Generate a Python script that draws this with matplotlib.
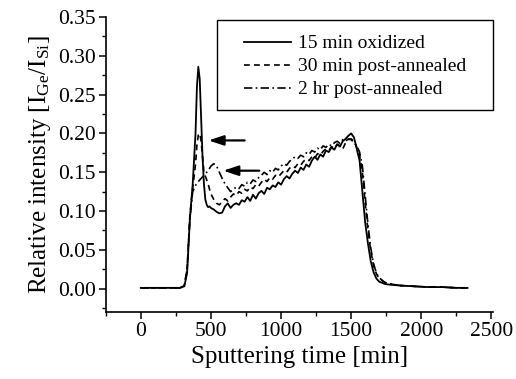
import matplotlib
matplotlib.use("Agg")
import matplotlib.pyplot as plt
from matplotlib.ticker import MultipleLocator
from matplotlib.patches import Rectangle

plt.rcParams['font.family'] = ['Liberation Serif', 'DejaVu Serif']
plt.rcParams['mathtext.fontset'] = 'custom'
plt.rcParams['mathtext.rm'] = 'Liberation Serif'
plt.rcParams['mathtext.it'] = 'Liberation Serif:italic'

# ---- data ----
x_time = [0, 100, 200, 280, 310, 330, 350, 370, 390, 400,
          410, 420, 430, 440, 450, 460, 470, 480, 490, 500,
          520, 540, 560, 580, 600, 620, 640, 660, 680, 700,
          720, 740, 760, 780, 800, 820, 840, 860, 880, 900,
          920, 940, 960, 980, 1000, 1020, 1040, 1060, 1080, 1100,
          1120, 1140, 1160, 1180, 1200, 1220, 1240, 1260, 1280, 1300,
          1320, 1340, 1360, 1380, 1400, 1420, 1440, 1460, 1480, 1500,
          1520, 1540, 1560, 1580, 1600, 1620, 1640, 1660, 1680, 1700,
          1740, 1780, 1850, 1950, 2050, 2150, 2250, 2330]

oxidized_15min = [0.001, 0.001, 0.001, 0.001, 0.003, 0.020, 0.090, 0.135, 0.200, 0.260,
                  0.286, 0.270, 0.220, 0.170, 0.135, 0.115, 0.108, 0.105, 0.106, 0.104,
                  0.102, 0.099, 0.097, 0.098, 0.106, 0.110, 0.104, 0.108, 0.110, 0.108,
                  0.114, 0.112, 0.118, 0.113, 0.121, 0.116, 0.123, 0.126, 0.122, 0.130,
                  0.128, 0.133, 0.131, 0.137, 0.134, 0.141, 0.145, 0.142, 0.148, 0.152,
                  0.149, 0.156, 0.153, 0.160, 0.157, 0.165, 0.170, 0.166, 0.173, 0.170,
                  0.178, 0.176, 0.182, 0.179, 0.186, 0.183, 0.190, 0.193, 0.197, 0.200,
                  0.195, 0.180, 0.165, 0.125, 0.085, 0.058, 0.035, 0.021, 0.013, 0.009,
                  0.006, 0.005, 0.004, 0.003, 0.002, 0.002, 0.001, 0.001]

annealed_30min = [0.001, 0.001, 0.001, 0.001, 0.004, 0.025, 0.095, 0.130, 0.160, 0.185,
                  0.198, 0.200, 0.190, 0.170, 0.150, 0.145, 0.140, 0.135, 0.128, 0.122,
                  0.115, 0.110, 0.108, 0.112, 0.116, 0.113, 0.118, 0.122, 0.120, 0.125,
                  0.123, 0.128, 0.126, 0.131, 0.129, 0.134, 0.132, 0.137, 0.141, 0.138,
                  0.143, 0.141, 0.146, 0.144, 0.148, 0.152, 0.150, 0.155, 0.158, 0.156,
                  0.161, 0.159, 0.164, 0.167, 0.165, 0.170, 0.168, 0.174, 0.172, 0.177,
                  0.180, 0.178, 0.183, 0.181, 0.186, 0.184, 0.180, 0.188, 0.192, 0.193,
                  0.190, 0.182, 0.172, 0.150, 0.110, 0.075, 0.048, 0.030, 0.019, 0.013,
                  0.008, 0.006, 0.004, 0.003, 0.002, 0.002, 0.001, 0.001]

annealed_2hr = [0.001, 0.001, 0.001, 0.001, 0.004, 0.025, 0.090, 0.125, 0.133, 0.136,
                0.138, 0.140, 0.142, 0.144, 0.146, 0.148, 0.150, 0.152, 0.155, 0.158,
                0.161, 0.158, 0.150, 0.142, 0.135, 0.130, 0.125, 0.128, 0.131, 0.129,
                0.134, 0.132, 0.137, 0.135, 0.140, 0.138, 0.143, 0.146, 0.150, 0.147,
                0.152, 0.150, 0.155, 0.153, 0.158, 0.161, 0.159, 0.164, 0.167, 0.170,
                0.168, 0.172, 0.170, 0.175, 0.173, 0.178, 0.176, 0.181, 0.179, 0.184,
                0.182, 0.186, 0.184, 0.188, 0.190, 0.187, 0.192, 0.190, 0.193, 0.192,
                0.188, 0.184, 0.176, 0.158, 0.120, 0.082, 0.052, 0.032, 0.020, 0.014,
                0.008, 0.006, 0.004, 0.003, 0.002, 0.002, 0.001, 0.001]

labels = ['15 min oxidized', '30 min post-annealed', '2 hr post-annealed']

arrow_tail_x = [740, 845]
arrow_head_x = [483, 588]
arrow_y = [0.191, 0.152]

x_ticks = [0, 500, 1000, 1500, 2000, 2500]
y_ticks = [0.00, 0.05, 0.10, 0.15, 0.20, 0.25, 0.30, 0.35]

# ---- plot ----
fig = plt.figure(figsize=(5.16, 3.79), dpi=100)
ax = fig.add_axes([0.205, 0.177, 0.75, 0.778])

ax.plot(x_time, oxidized_15min, color='black', lw=1.3, ls='-', label=labels[0])
ax.plot(x_time, annealed_30min, color='black', lw=1.2, ls=(0, (3.5, 2.5)), label=labels[1])
ax.plot(x_time, annealed_2hr, color='black', lw=1.2, ls=(0, (5, 2, 1, 2)), label=labels[2])

for xt, xh, ya in zip(arrow_tail_x, arrow_head_x, arrow_y):
    ax.annotate('', xy=(xh, ya), xytext=(xt, ya),
                arrowprops=dict(arrowstyle='-|>,head_length=0.9,head_width=0.3',
                                color='black', lw=1.6, shrinkA=0, shrinkB=0))

ax.set_xlim(-250, 2510)
ax.set_ylim(-0.03, 0.35)
ax.set_xticks(x_ticks)
ax.set_yticks(y_ticks)
ax.set_yticklabels([f'{v:.2f}' for v in y_ticks])
ax.xaxis.set_minor_locator(MultipleLocator(250))
ax.yaxis.set_minor_locator(MultipleLocator(0.025))

for s in ['top', 'right']:
    ax.spines[s].set_visible(False)
for s in ['left', 'bottom']:
    ax.spines[s].set_linewidth(1.2)

ax.tick_params(which='major', direction='out', length=5, width=1.1, labelsize=15.5, pad=2)
ax.tick_params(which='minor', direction='out', length=3, width=1.0)

ax.set_xlabel('Sputtering time [min]', fontsize=18, labelpad=4)
ax.set_ylabel(r'Relative intensity [I$_{\mathrm{Ge}}$/I$_{\mathrm{Si}}$]', fontsize=18, labelpad=4)

# legend box frame
ax.add_patch(Rectangle((0.287, 0.685), 0.713, 0.305, transform=ax.transAxes,
                       fill=False, edgecolor='black', lw=1.0, clip_on=False, zorder=4))
leg = ax.legend(loc='upper left', bbox_to_anchor=(0.358, 0.94),
                fontsize=14, frameon=False, borderaxespad=0, borderpad=0,
                handlelength=2.4, handletextpad=0.35, labelspacing=0.28)

fig.savefig('out.png', dpi=100)
